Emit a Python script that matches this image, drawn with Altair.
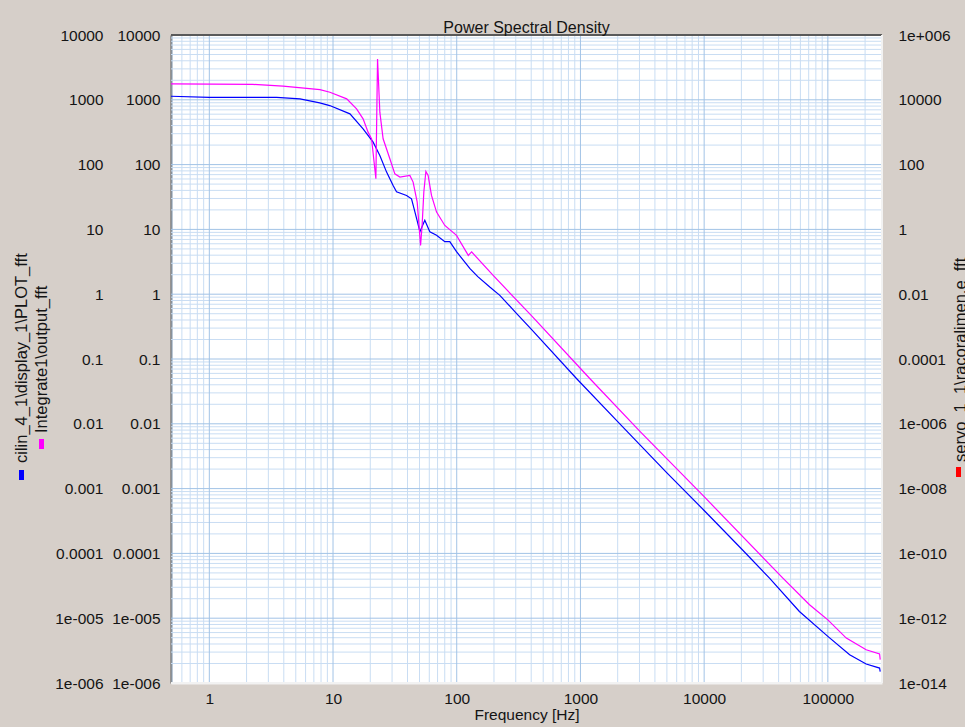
import math
import altair as alt
import pandas as pd

# ---------------- data ----------------
blue_name = "cilin_4_1\\display_1\\PLOT_fft"
magenta_name = "Integrate1\\output_fft"
red_name = "servo_1_1\\racoralimen.e_fft"

blue_freq = [0.49, 1.0, 3.5, 5.4, 7.8, 9.4, 13.7, 17.5, 21.1, 23.9, 27.1, 30.6, 32.6,
             39.3, 43.1, 45.9, 50.4, 55.2, 60.6, 68.7, 80.1, 87.9, 99.6, 128, 148,
             185, 223, 300, 400, 929, 2000, 5000, 10000, 20000, 33760, 58900,
             100000, 150000, 204000, 262000, 265000]
blue_val = [1135, 1090, 1090, 1033, 896, 815, 607, 356, 222, 138, 76.6, 47.6, 38.1,
            33.4, 29.7, 18.7, 9.2, 13.8, 9.2, 8.1, 6.46, 6.46, 4.53, 2.48, 1.87,
            1.29, 0.96, 0.52, 0.29, 0.05, 0.0108, 0.00175, 0.00046, 0.000118, 4.15e-5, 1.27e-5,
            5.25e-6, 2.73e-6, 1.96e-6, 1.70e-6, 1.5e-6]

mag_freq = [0.49, 2.25, 3.94, 7.84, 9.44, 12.9, 15.5, 17.5, 19.2, 20.5, 22.2, 22.9,
            23.9, 25.4, 28.8, 31.6, 34.7, 41.8, 44.4, 47.9, 51.0, 52.5, 54.2, 56.3,
            58.7, 62.5, 68.7, 80.1, 99.6, 124, 132, 197, 400, 1189, 3000, 10000,
            43300, 71100, 100000, 141000, 204000, 262000, 265000]
mag_val = [1758, 1730, 1622, 1436, 1309, 1033, 724, 508, 317, 250, 60.4, 4270,
           644, 250, 123, 72, 64.2, 67.9, 53.7, 26.4, 5.67, 11.5, 37.7, 78.3,
           67.9, 33.4, 18.5, 11.5, 8.1, 3.97, 4.49, 1.95, 0.47, 0.05, 0.0078, 0.00075,
           4.15e-5, 1.61e-5, 9.44e-6, 4.93e-6, 3.26e-6, 2.8e-6, 2.29e-6]

x_tick_values = [1, 10, 100, 1000, 10000, 100000]
x_tick_labels = ["1", "10", "100", "1000", "10000", "100000"]
left_tick_values = [1e4, 1e3, 1e2, 1e1, 1, 1e-1, 1e-2, 1e-3, 1e-4, 1e-5, 1e-6]
left_tick_labels = ["10000", "1000", "100", "10", "1", "0.1", "0.01", "0.001",
                    "0.0001", "1e-005", "1e-006"]
right_tick_values = [1e6, 1e4, 1e2, 1, 1e-2, 1e-4, 1e-6, 1e-8, 1e-10, 1e-12, 1e-14]
right_tick_labels = ["1e+006", "10000", "100", "1", "0.01", "0.0001", "1e-006",
                     "1e-008", "1e-010", "1e-012", "1e-014"]

title_text = "Power Spectral Density"
x_title = "Frequency [Hz]"

x_domain = [0.49, 274000]
left_domain = [1e-6, 1e4]
right_domain = [1e-14, 1e6]

# ---------------- style ----------------
FONT = "Liberation Sans, Arial, sans-serif"
BG = "#d6cfc9"
TXT = "#141414"
W, H = 711, 648
OX, OY = 171, 35
MINOR = "#c9ddf3"
MAJOR = "#a2c3e6"
LBL = 15.5


def label_expr(values, labels):
    parts = []
    for v, l in zip(values, labels):
        e = int(round(math.log10(v)))
        parts.append(f"round(log(datum.value)/LN10)=={e} ? '{l}'")
    return " : ".join(parts) + " : ''"


def grid_positions(lo, hi, mults):
    out = []
    d0 = math.floor(math.log10(lo))
    d1 = math.ceil(math.log10(hi))
    for d in range(d0, d1 + 1):
        for m in mults:
            v = m * 10 ** d
            if lo * 1.0001 < v < hi * 0.9999:
                out.append(v)
    return out


def xs():
    return alt.Scale(type="log", domain=x_domain, nice=False)


def ys():
    return alt.Scale(type="log", domain=left_domain, nice=False)


def xaxis():
    return alt.Axis(
        orient="bottom", values=x_tick_values,
        labelExpr=label_expr(x_tick_values, x_tick_labels),
        grid=False, ticks=False,
        labelFont=FONT, labelFontSize=LBL, labelColor=TXT, labelPadding=8,
        labelFlush=False, domainColor="#f2f2f2", domainWidth=2,
        title=x_title, titleFont=FONT, titleFontSize=LBL,
        titleFontWeight="normal", titleColor=TXT, titlePadding=1)


lines_df = pd.concat([
    pd.DataFrame({"f": blue_freq, "v": blue_val, "s": blue_name}),
    pd.DataFrame({"f": mag_freq, "v": mag_val, "s": magenta_name}),
])

gx_minor = pd.DataFrame({"f": grid_positions(*x_domain, range(2, 10))})
gx_major = pd.DataFrame({"f": grid_positions(*x_domain, [1])})
gy_minor = pd.DataFrame({"gy": grid_positions(*left_domain, range(2, 10))})
gy_major = pd.DataFrame({"gy": grid_positions(*left_domain, [1])})

grid_vmin = alt.Chart(gx_minor).mark_rule(color=MINOR, strokeWidth=1).encode(
    x=alt.X("f:Q", scale=xs(), axis=xaxis()))
grid_hmin = alt.Chart(gy_minor).mark_rule(color=MINOR, strokeWidth=1).encode(
    y=alt.Y("gy:Q", scale=ys(), axis=None))
grid_vmaj = alt.Chart(gx_major).mark_rule(color=MAJOR, strokeWidth=1).encode(
    x=alt.X("f:Q", scale=xs(), axis=xaxis()))
grid_hmaj = alt.Chart(gy_major).mark_rule(color=MAJOR, strokeWidth=1).encode(
    y=alt.Y("gy:Q", scale=ys(), axis=None))

lines = alt.Chart(lines_df).mark_line(strokeWidth=1.2, clip=True).encode(
    x=alt.X("f:Q", scale=xs(), axis=xaxis()),
    y=alt.Y("v:Q", scale=ys(), axis=alt.Axis(
        orient="left", values=left_tick_values,
        labelExpr=label_expr(left_tick_values, left_tick_labels),
        grid=False, ticks=False, labelFont=FONT, labelFontSize=LBL, labelColor=TXT,
        labelPadding=11, domainColor="#5a5a5a", domainWidth=2, title=None)),
    color=alt.Color("s:N", scale=alt.Scale(domain=[blue_name, magenta_name],
                                           range=["#0000ff", "#ff00ff"]), legend=None),
)

dummy = pd.DataFrame({"k": [0]})
top_border = alt.Chart(dummy).mark_rule(color="#5a5a5a", strokeWidth=2).encode(
    x=alt.value(0), x2=alt.value(W), y=alt.value(0))
right_border = alt.Chart(dummy).mark_rule(color="#f2f2f2", strokeWidth=2).encode(
    x=alt.value(W), y=alt.value(0), y2=alt.value(H))
bottom_border = alt.Chart(dummy).mark_rule(color="#f2f2f2", strokeWidth=2).encode(
    x=alt.value(0), x2=alt.value(W), y=alt.value(H))

title_mark = alt.Chart(pd.DataFrame({"t": [title_text]})).mark_text(
    align="center", baseline="alphabetic", font=FONT, fontSize=16, color=TXT).encode(
    text="t:N", x=alt.value(W / 2), y=alt.value(-2))


def legend_item(label, color, tx, ty, mx, my):
    t = alt.Chart(pd.DataFrame({"label": [label]})).mark_text(
        angle=270, align="left", baseline="alphabetic", font=FONT, fontSize=16.5,
        color=TXT).encode(text="label:N", x=alt.value(tx), y=alt.value(ty))
    m = alt.Chart(dummy).mark_rect(color=color).encode(
        x=alt.value(mx), x2=alt.value(mx + 5), y=alt.value(my), y2=alt.value(my + 10))
    return [t, m]


leg = []
leg += legend_item(blue_name, "#0000ff", 27 - OX, 463 - OY, 19 - OX, 470 - OY)
leg += legend_item(magenta_name, "#ff00ff", 47 - OX, 433 - OY, 39 - OX, 439 - OY)
leg += legend_item(red_name, "#ff0000", 966 - OX, 462 - OY, 956 - OX, 467 - OY)

axis2 = alt.Chart(pd.DataFrame({"t": left_tick_values})).mark_point(opacity=0).encode(
    x=alt.value(0),
    y=alt.Y("t:Q", scale=alt.Scale(type="log", domain=left_domain, nice=False),
            axis=alt.Axis(orient="left", offset=57, values=left_tick_values,
                          labelExpr=label_expr(left_tick_values, left_tick_labels),
                          grid=False, ticks=False, domain=False, labelFont=FONT,
                          labelFontSize=LBL, labelColor=TXT, labelPadding=11, title=None)))

axis3 = alt.Chart(pd.DataFrame({"r": right_tick_values})).mark_point(opacity=0).encode(
    x=alt.value(0),
    y=alt.Y("r:Q", scale=alt.Scale(type="log", domain=right_domain, nice=False),
            axis=alt.Axis(orient="right", values=right_tick_values,
                          labelExpr=label_expr(right_tick_values, right_tick_labels),
                          grid=False, ticks=False, domain=False, labelFont=FONT,
                          labelFontSize=LBL, labelColor=TXT, labelPadding=16, title=None)))

chart = alt.layer(
    grid_vmin, grid_hmin, grid_vmaj, grid_hmaj, lines, top_border, right_border,
    bottom_border, title_mark, *leg, axis2, axis3
).resolve_scale(y="independent").properties(
    width=W, height=H,
    background=BG,
    padding={"left": OX, "top": OY, "right": 965 - OX - W, "bottom": 727 - OY - H},
    autosize=alt.AutoSizeParams(type="none"),
).configure_view(fill="white", stroke=None)

chart.save("out.html", embed_options={"renderer": "svg", "actions": False})
